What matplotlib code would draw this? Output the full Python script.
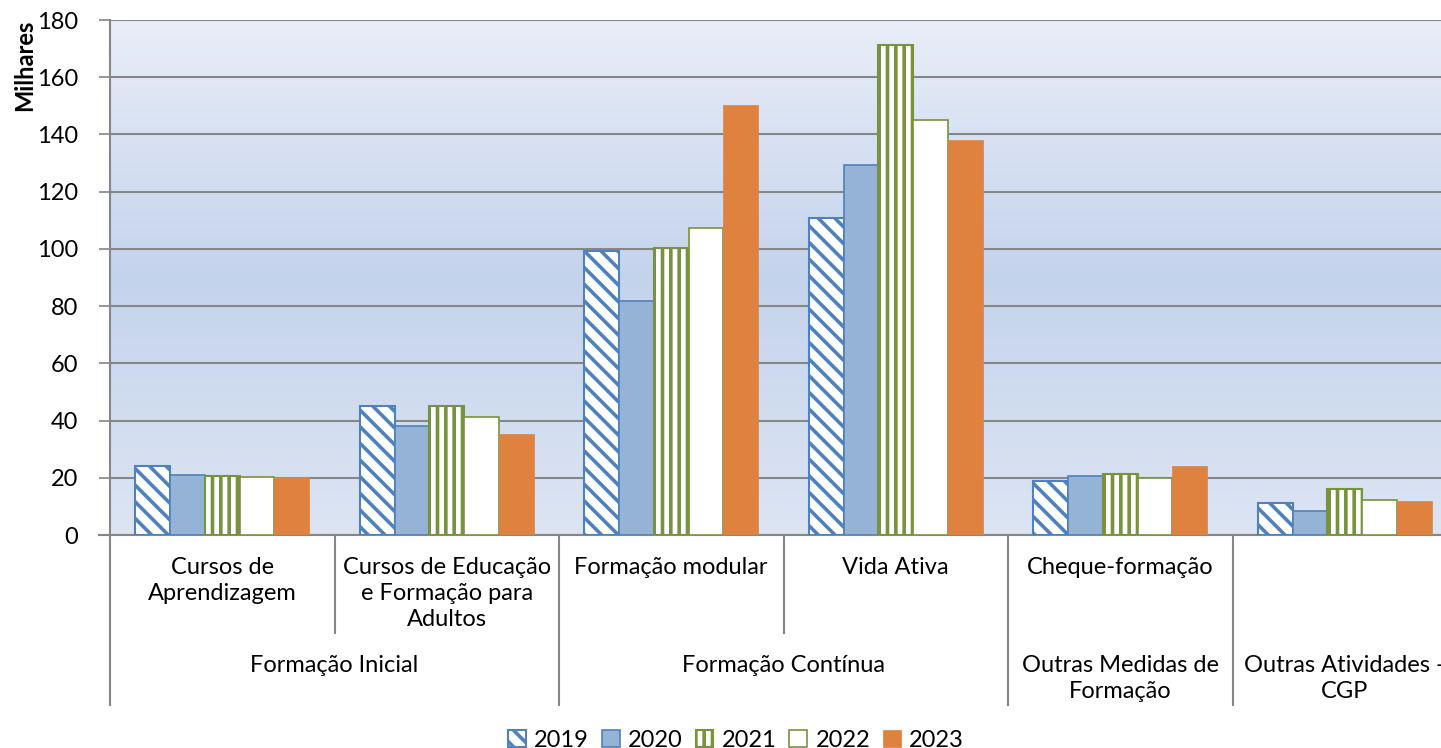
import matplotlib.pyplot as plt
import matplotlib.transforms as mtransforms
from matplotlib.colors import LinearSegmentedColormap
import numpy as np

# dados (milhares)
subcats = ["Cursos de\nAprendizagem", "Cursos de Educação\ne Formação para\nAdultos",
           "Formação modular", "Vida Ativa", "Cheque-formação", ""]
groups = ["Formação Inicial", "Formação Contínua", "Outras Medidas de\nFormação", "Outras Atividades -\nCGP"]
group_span = [(0, 1), (2, 3), (4, 4), (5, 5)]
years = ["2019", "2020", "2021", "2022", "2023"]

v2019 = [24.1, 45.1, 99.3, 110.8, 18.9, 11.2]
v2020 = [21.0, 38.1, 81.8, 129.4, 20.6, 8.4]
v2021 = [20.6, 45.1, 100.3, 171.3, 21.3, 16.1]
v2022 = [20.3, 41.3, 107.3, 145.1, 19.9, 12.2]
v2023 = [20.2, 35.3, 150.3, 138.1, 24.1, 11.9]
series = [v2019, v2020, v2021, v2022, v2023]

plt.rcParams['font.family'] = ['Lato', 'DejaVu Sans']
plt.rcParams['hatch.linewidth'] = 2.6  # lido no momento do desenho

fig = plt.figure(figsize=(14.41, 7.48), dpi=100)
ax = fig.add_axes([110/1441, 213/748, 1347/1441, 515/748])

# fundo em gradiente
cmap = LinearSegmentedColormap.from_list("bg", ["#DDE5F3", "#C4D3EC", "#E9EEF8"])
ax.imshow(np.linspace(0, 1, 256).reshape(-1, 1), aspect='auto', cmap=cmap,
          extent=[-0.5, 5.5, 0, 180], origin='lower', zorder=0)

x = np.arange(len(subcats))
w = 0.155
styles = [
    dict(facecolor="white", edgecolor="#4F81BD", hatch="\\\\", lw=1.5),
    dict(facecolor="#95B3D7", edgecolor="#4F81BD", hatch=None, lw=1.2),
    dict(facecolor="white", edgecolor="#77933C", hatch="||", lw=1.5),
    dict(facecolor="white", edgecolor="#77933C", hatch=None, lw=1.2),
    dict(facecolor="#E0823F", edgecolor="#E0823F", hatch=None, lw=0.5),
]
handles = []
for i, (vals, st) in enumerate(zip(series, styles)):
    bars = ax.bar(x + (i - 2) * w, vals, w, facecolor=st['facecolor'], edgecolor=st['edgecolor'],
                  hatch=st['hatch'], linewidth=st['lw'], label=years[i], zorder=3)
    handles.append(bars)

ax.set_xlim(-0.5, 5.5)
ax.set_ylim(0, 180)
ax.set_yticks(range(0, 181, 20))
ax.tick_params(axis='y', labelsize=17, length=8, color="#868686", width=1.2, pad=15)
ax.set_xticks([])
ax.yaxis.grid(True, color="#868686", linewidth=1.5, zorder=1)
ax.set_axisbelow(True)
for s in ['top', 'right']:
    ax.spines[s].set_visible(False)
for s in ['left', 'bottom']:
    ax.spines[s].set_color("#868686")
    ax.spines[s].set_linewidth(1.5)

ax.text(-85/1347, 1.0, "Milhares", transform=ax.transAxes, rotation=90, fontsize=17,
        fontweight='bold', ha='center', va='top')

# eixo de categorias hierárquico
tr = mtransforms.blended_transform_factory(ax.transData, ax.transAxes)
row1 = -98/515
row2 = -170/515
for k in range(1, 6):
    xb = k - 0.5
    full = k in (2, 4, 5)
    ax.plot([xb, xb], [0, row2 if full else row1], transform=tr, color="#868686",
            lw=1.5, clip_on=False)
ax.plot([-0.5, -0.5], [0, row2], transform=tr, color="#868686", lw=1.5, clip_on=False)
ax.plot([-0.55, -0.5], [0, 0], transform=tr, color="#868686", lw=1.5, clip_on=False)

for k, lab in enumerate(subcats):
    ax.text(k, -22/515, lab, transform=tr, ha='center', va='top', fontsize=17,
            linespacing=1.3)
for (a, b), lab in zip(group_span, groups):
    ax.text((a + b) / 2, -120/515, lab, transform=tr, ha='center', va='top', fontsize=17,
            linespacing=1.3)

fig.legend(handles=handles, labels=years, loc='lower center', ncol=5, frameon=False,
           bbox_to_anchor=(736/1441, -0.032), fontsize=17, handlelength=0.75, handleheight=0.75,
           columnspacing=0.55, handletextpad=0.35)

fig.savefig("out.png", dpi=100)
